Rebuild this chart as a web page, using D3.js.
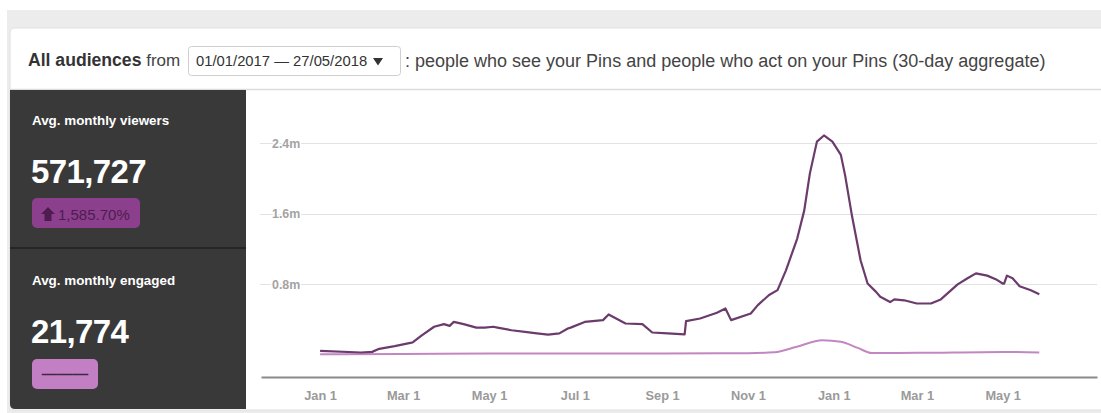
<!DOCTYPE html>
<html lang="en">
<head>
<meta charset="utf-8">
<script src="https://d3js.org/d3.v7.min.js"></script>
<style>
  body { margin: 0; background: #fff; }
  text { font-family: "Liberation Sans", Arial, sans-serif; }
</style>
</head>
<body>
<script>
// ---- data (values in millions) ----
var viewerDates = ["2017-01-01","2017-01-30","2017-02-07","2017-02-12","2017-02-23","2017-03-07","2017-03-08",
  "2017-03-14","2017-03-23","2017-03-30","2017-04-03","2017-04-06","2017-04-13","2017-04-22","2017-04-28",
  "2017-05-04","2017-05-07","2017-05-17","2017-05-28","2017-06-04","2017-06-12","2017-06-20","2017-06-26",
  "2017-06-28","2017-07-08","2017-07-21","2017-07-25","2017-08-06","2017-08-18","2017-08-25","2017-09-05",
  "2017-09-17","2017-09-18","2017-09-28","2017-10-10","2017-10-16","2017-10-20","2017-11-03","2017-11-08",
  "2017-11-16","2017-11-22","2017-11-28","2017-12-06","2017-12-11","2017-12-15","2017-12-20","2017-12-25",
  "2017-12-31","2018-01-06","2018-01-09","2018-01-14","2018-01-20","2018-01-25","2018-01-31","2018-02-03",
  "2018-02-10","2018-02-13","2018-02-20","2018-03-01","2018-03-11","2018-03-18","2018-03-30","2018-04-06",
  "2018-04-12","2018-04-20","2018-04-26","2018-05-01","2018-05-02","2018-05-04","2018-05-08","2018-05-13",
  "2018-05-21","2018-05-27"];
var viewerValues = [0.046,0.028,0.035,0.07,0.10,0.14,0.145,
  0.22,0.32,0.35,0.33,0.375,0.35,0.31,0.31,
  0.32,0.31,0.28,0.26,0.245,0.23,0.245,0.30,
  0.31,0.375,0.395,0.46,0.357,0.35,0.255,0.244,
  0.233,0.383,0.414,0.478,0.527,0.395,0.47,0.565,
  0.68,0.735,0.96,1.32,1.64,2.06,2.42,2.49,
  2.42,2.27,2.04,1.57,1.075,0.81,0.716,0.66,
  0.60,0.63,0.62,0.584,0.584,0.63,0.80,0.87,
  0.925,0.90,0.86,0.81,0.81,0.90,0.87,0.78,
  0.735,0.69];

var engagedDates = ["2017-01-01","2017-03-01","2017-05-01","2017-07-01","2017-09-01","2017-11-01","2017-11-20",
  "2017-12-05","2017-12-24","2018-01-06","2018-01-18","2018-01-28","2018-03-01","2018-05-01","2018-05-27"];
var engagedValues = [0.008,0.012,0.017,0.017,0.017,0.02,0.03,
  0.09,0.168,0.15,0.08,0.022,0.024,0.035,0.028];

var yTicks = [0.8, 1.6, 2.4];
var xTicks = ["2017-01-01","2017-03-01","2017-05-01","2017-07-01","2017-09-01","2017-11-01",
  "2018-01-01","2018-03-01","2018-05-01"];

var headerBold = "All audiences";
var headerFrom = "from";
var dateRangeLabel = "01/01/2017 \u2014 27/05/2018";
var headerRest = ": people who see your Pins and people who act on your Pins (30-day aggregate)";
var stats = [
  {label: "Avg. monthly viewers", value: "571,727", badge: "1,585.70%"},
  {label: "Avg. monthly engaged", value: "21,774", badge: "\u2014\u2014\u2014"}
];

var parse = d3.timeParse("%Y-%m-%d");
var viewers = viewerDates.map(function(d, i){ return {date: parse(d), v: viewerValues[i]}; });
var engaged = engagedDates.map(function(d, i){ return {date: parse(d), v: engagedValues[i]}; });

var width = 1101, height = 413;
var svg = d3.select("body").append("svg")
    .attr("width", width).attr("height", height);

// page background + card
svg.append("rect").attr("x", 0).attr("y", 0).attr("width", width).attr("height", height).attr("fill", "#fff");
svg.append("rect").attr("x", 7).attr("y", 10).attr("width", width - 7).attr("height", height - 10).attr("fill", "#ececec");
svg.append("rect").attr("x", 10).attr("y", 28).attr("width", width).attr("height", 382)
   .attr("rx", 4).attr("fill", "#fff").attr("stroke", "#e0e0e0");

// header
var hdr = svg.append("text").attr("x", 28).attr("y", 66).attr("font-size", 17).attr("fill", "#333");
hdr.append("tspan").attr("font-weight", "bold").attr("font-size", 17.6).text(headerBold);
hdr.append("tspan").attr("fill", "#444").text(" " + headerFrom);

svg.append("rect").attr("x", 188.5).attr("y", 46.5).attr("width", 212).attr("height", 29)
   .attr("rx", 3).attr("fill", "#fff").attr("stroke", "#cfcfcf");
svg.append("text").attr("x", 196).attr("y", 66).attr("font-size", 14.8).attr("fill", "#333")
   .text(dateRangeLabel);
svg.append("path").attr("d", "M373,58 L383,58 L378,65.5 Z").attr("fill", "#333");
svg.append("text").attr("x", 405).attr("y", 67).attr("font-size", 18).attr("fill", "#444")
   .text(headerRest);

svg.append("line").attr("x1", 10).attr("x2", width).attr("y1", 89.5).attr("y2", 89.5)
   .attr("stroke", "#dcdcdc").attr("stroke-width", 1.5);

// dark stats panel
svg.append("path")
   .attr("d", "M10,90 L246,90 L246,409 L15,409 Q10,409 10,404 Z")
   .attr("fill", "#393939");
svg.append("line").attr("x1", 10).attr("x2", 246).attr("y1", 248).attr("y2", 248)
   .attr("stroke", "#262626").attr("stroke-width", 2);

var panelY = [90, 249];
var badgeFill = ["#8b3f8c", "#c27fc3"];
var badgeW = [108, 66];
stats.forEach(function(s, i){
  var g = svg.append("g").attr("transform", "translate(0," + panelY[i] + ")");
  g.append("text").attr("x", 32).attr("y", i === 0 ? 35 : 36).attr("font-size", 13.4)
   .attr("font-weight", "bold").attr("fill", "#fff").text(s.label);
  g.append("text").attr("x", 31).attr("y", i === 0 ? 93 : 94).attr("font-size", 33)
   .attr("font-weight", "bold").attr("fill", "#fff").attr("letter-spacing", -0.6).text(s.value);
  g.append("rect").attr("x", 32).attr("y", i === 0 ? 108 : 110).attr("width", badgeW[i]).attr("height", 30)
   .attr("rx", 5).attr("fill", badgeFill[i]);
  if (i === 0) {
    g.append("path").attr("d", "M41,124 L48,117 L55,124 L51.5,124 L51.5,131 L44.5,131 L44.5,124 Z")
     .attr("fill", "#4e1d50");
    g.append("text").attr("x", 58).attr("y", 129.5).attr("font-size", 15).attr("fill", "#4e1d50")
     .text(s.badge);
  } else {
    g.append("text").attr("x", 65).attr("y", 130).attr("text-anchor", "middle").attr("font-size", 15.5)
     .attr("font-weight", "bold").attr("fill", "#3d2a3e").text(s.badge);
  }
});

// chart
var x = d3.scaleTime()
    .domain([parse("2016-11-20"), parse("2018-07-07")])
    .range([261, 1097]);
var y = d3.scaleLinear().domain([-0.25, 3.0]).range([377, 90.5]);

svg.append("g").selectAll("line").data(yTicks).join("line")
   .attr("x1", 260).attr("x2", 1097)
   .attr("y1", function(d){ return Math.round(y(d)) + 0.5; })
   .attr("y2", function(d){ return Math.round(y(d)) + 0.5; })
   .attr("stroke", "#e2e2e2").attr("stroke-width", 1.2);

svg.append("g").selectAll("text").data(yTicks).join("text")
   .attr("x", 272).attr("y", function(d){ return y(d) + 4.5; })
   .attr("font-size", 12.4).attr("font-weight", "bold").attr("fill", "#a3a3a3")
   .attr("stroke", "#fff").attr("stroke-width", 3).attr("paint-order", "stroke")
   .text(function(d){ return d + "m"; });

var xAxis = d3.axisBottom(x)
    .tickValues(xTicks.map(parse))
    .tickFormat(d3.timeFormat("%b %-d"))
    .tickSize(0).tickPadding(14);
var gx = svg.append("g").attr("transform", "translate(0,377)").call(xAxis);
gx.select(".domain").attr("stroke", "#8a8a8a").attr("stroke-width", 2);
gx.selectAll("text").attr("font-size", 12.8).attr("font-weight", "bold").attr("fill", "#9a9a9a")
  .attr("font-family", "Liberation Sans, Arial, sans-serif");

var line = d3.line().x(function(d){ return x(d.date); }).y(function(d){ return y(d.v); });
var smooth = d3.line().curve(d3.curveMonotoneX)
    .x(function(d){ return x(d.date); }).y(function(d){ return y(d.v); });

svg.append("path").datum(engaged).attr("d", smooth).attr("fill", "none")
   .attr("stroke", "#c287c3").attr("stroke-width", 2);
svg.append("path").datum(viewers).attr("d", line).attr("fill", "none")
   .attr("stroke", "#6b3b6c").attr("stroke-width", 2.2).attr("stroke-linejoin", "round");
</script>
</body>
</html>
